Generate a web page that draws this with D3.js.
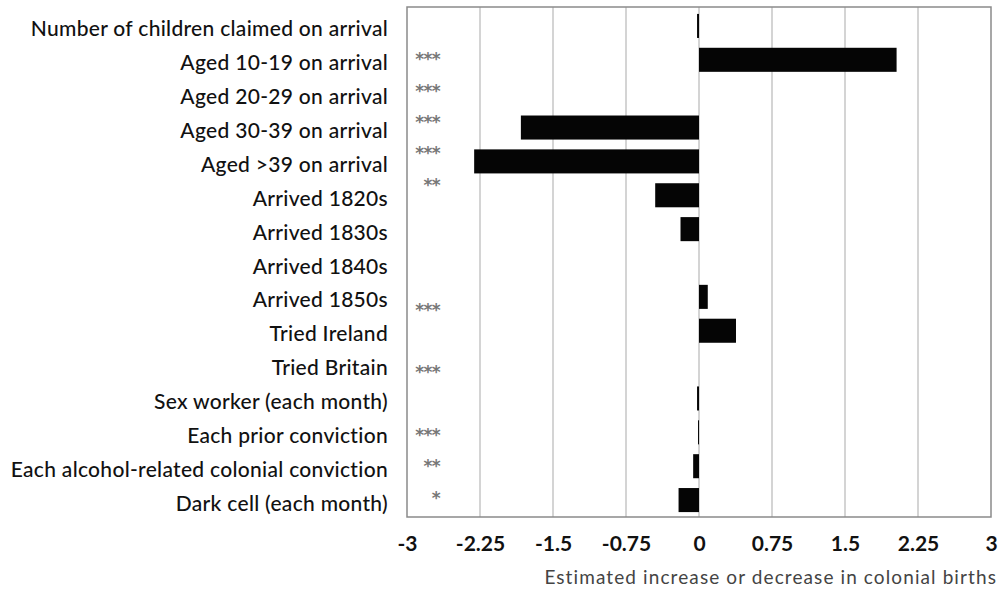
<!DOCTYPE html>
<html>
<head>
<meta charset="utf-8">
<script src="https://cdn.jsdelivr.net/npm/d3@7"></script>
<style>
  body { margin: 0; background: #fff; }
  svg { display: block; }
</style>
</head>
<body>
<svg id="chart" width="999" height="593"></svg>
<script>
// Predictors of colonial births (regression estimates)
const categories = [
  "Number of children claimed on arrival",
  "Aged 10-19 on arrival",
  "Aged 20-29 on arrival",
  "Aged 30-39 on arrival",
  "Aged >39 on arrival",
  "Arrived 1820s",
  "Arrived 1830s",
  "Arrived 1840s",
  "Arrived 1850s",
  "Tried Ireland",
  "Tried Britain",
  "Sex worker (each month)",
  "Each prior conviction",
  "Each alcohol-related colonial conviction",
  "Dark cell (each month)"
];
const estimates = [-0.02, 2.03, 0, -1.83, -2.31, -0.45, -0.19, 0, 0.09, 0.38, 0, -0.02, -0.01, -0.06, -0.21];

// Significance column, typeset as its own block of lines
const significance = ["", "***", "***", "***", "***", "**", "", "", "", "***", "", "***", "", "***", "**", "*"];

const tickValues = [-3, -2.25, -1.5, -0.75, 0, 0.75, 1.5, 2.25, 3];
const tickLabels = ["-3", "-2.25", "-1.5", "-0.75", "0", "0.75", "1.5", "2.25", "3"];
const axisTitle = "Estimated increase or decrease in colonial births";

const FONT = "Lato, 'Open Sans', sans-serif";
const svg = d3.select("#chart");
const plot = { left: 407, right: 991, top: 7, bottom: 517 };

const x = d3.scaleLinear().domain([-3, 3]).range([plot.left, plot.right]);
const y = d3.scaleBand()
  .domain(categories)
  .range([9, plot.bottom])
  .paddingInner(0.29)
  .paddingOuter(0.145);

// vertical gridlines
svg.append("g")
  .selectAll("line")
  .data(tickValues.slice(1, -1))
  .join("line")
  .attr("x1", d => x(d)).attr("x2", d => x(d))
  .attr("y1", plot.top).attr("y2", plot.bottom)
  .attr("stroke", "#c6c6c6")
  .attr("stroke-width", 1.5);

// plot frame
svg.append("rect")
  .attr("x", plot.left).attr("y", plot.top)
  .attr("width", plot.right - plot.left)
  .attr("height", plot.bottom - plot.top)
  .attr("fill", "none")
  .attr("stroke", "#8a8a8a")
  .attr("stroke-width", 1.5);

// bars
svg.append("g")
  .selectAll("rect")
  .data(categories.map((c, i) => ({ c, v: estimates[i] })).filter(d => d.v !== 0))
  .join("rect")
  .attr("x", d => x(Math.min(0, d.v)))
  .attr("width", d => Math.abs(x(d.v) - x(0)))
  .attr("y", d => y(d.c))
  .attr("height", y.bandwidth())
  .attr("fill", "#050505");

// category labels
svg.append("g")
  .selectAll("text")
  .data(categories)
  .join("text")
  .attr("x", 388)
  .attr("y", d => y(d) + y.bandwidth() / 2 + 2)
  .attr("text-anchor", "end")
  .attr("dominant-baseline", "central")
  .attr("font-family", FONT)
  .attr("font-size", 21)
  .attr("font-weight", 500)
  .attr("letter-spacing", 0.3)
  .attr("fill", "#111")
  .text(d => d);

// significance stars
const sigLine = d3.scaleLinear()
  .domain([0, significance.length - 1])
  .range([25, 25 + (significance.length - 1) * 31.3]);
svg.append("g")
  .selectAll("text")
  .data(significance)
  .join("text")
  .attr("x", 440)
  .attr("y", (d, i) => sigLine(i) + 9)
  .attr("text-anchor", "end")
  .attr("font-family", "'DejaVu Sans', sans-serif")
  .attr("font-size", 17)
  .attr("font-weight", 700)
  .attr("letter-spacing", -0.6)
  .attr("fill", "#777")
  .text(d => d);

// x axis
const xAxis = d3.axisBottom(x)
  .tickValues(tickValues)
  .tickFormat((d, i) => tickLabels[i])
  .tickSize(0)
  .tickPadding(19);
const gx = svg.append("g")
  .attr("transform", `translate(0,${plot.bottom})`)
  .call(xAxis);
gx.select(".domain").remove();
gx.selectAll("text")
  .attr("font-family", FONT)
  .attr("font-size", 21)
  .attr("font-weight", 700)
  .attr("fill", "#111");

// axis title
svg.append("text")
  .attr("x", 997)
  .attr("y", 584)
  .attr("text-anchor", "end")
  .attr("font-family", FONT)
  .attr("font-size", 19)
  .attr("letter-spacing", 1.1)
  .attr("fill", "#444")
  .text(axisTitle);
</script>
</body>
</html>
